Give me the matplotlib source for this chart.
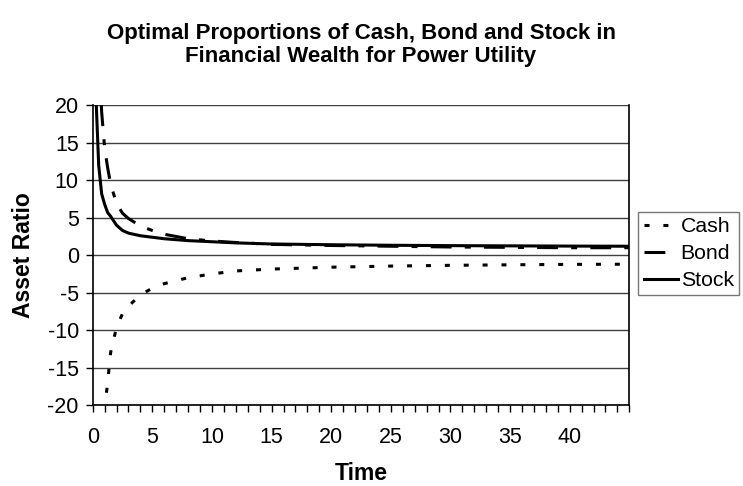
import matplotlib
matplotlib.use("Agg")
import matplotlib.pyplot as plt
import numpy as np

# values
time = [0.25, 0.5, 0.75, 1, 1.25, 1.5, 2, 2.5, 3, 4, 5, 6, 8, 10, 12, 15,
        20, 25, 30, 35, 40, 45]
cash = [-60, -40, -27, -20.5, -17.0, -13.0, -9.6, -7.8, -6.8, -5.3, -4.4,
        -3.8, -3.0, -2.5, -2.1, -1.85, -1.6, -1.45, -1.35, -1.28, -1.22, -1.2]
bond = [40, 27, 19.1, 14.3, 11.7, 9.5, 6.9, 5.6, 4.9, 3.9, 3.3, 2.8, 2.2,
        1.9, 1.7, 1.45, 1.3, 1.2, 1.1, 1.05, 1.0, 1.0]
stock = [22, 12, 8.2, 6.8, 5.7, 5.2, 4.0, 3.3, 2.95, 2.6, 2.4, 2.2, 1.95,
         1.8, 1.65, 1.5, 1.4, 1.33, 1.28, 1.25, 1.22, 1.2]

plt.rcParams['font.family'] = ['Liberation Sans', 'DejaVu Sans']
plt.rcParams['lines.scale_dashes'] = False
plt.rcParams['axes.unicode_minus'] = False

fig = plt.figure(figsize=(7.43, 4.86), dpi=100)
ax = fig.add_axes([0.1248, 0.1667, 0.847 - 0.1248, 0.783 - 0.1667])

ax.plot(time, cash, color='black', lw=2.2, dashes=(3.6, 10), label='Cash')
ax.plot(time, bond, color='black', lw=2.2, dashes=(15, 9.5, 4.3, 9.5),
        label='Bond')
ax.plot(time, stock, color='black', lw=2.2, label='Stock')

ax.set_xlim(0, 45)
ax.set_ylim(-20, 20)
ax.set_yticks(np.arange(-20, 21, 5))
ax.set_xticks(np.arange(0, 41, 5))
ax.set_xticks(np.arange(0, 46, 1), minor=True)
ax.yaxis.grid(True, color='#404040', lw=1)
ax.set_axisbelow(True)

ax.spines['top'].set_visible(False)
for s in ['left', 'bottom', 'right']:
    ax.spines[s].set_linewidth(1.2)

ax.tick_params(axis='y', direction='out', length=5, width=1, labelsize=15.5, pad=5)
ax.tick_params(axis='x', which='both', direction='out', length=5, width=1,
               labelsize=15.5, pad=11)

ax.set_xlabel('Time', fontsize=16.5, fontweight='bold', labelpad=10)
ax.set_ylabel('Asset Ratio', fontsize=16.5, fontweight='bold', labelpad=9)
ax.set_title('Optimal Proportions of Cash, Bond and Stock in\n'
             'Financial Wealth for Power Utility',
             fontsize=16, fontweight='bold', pad=31, linespacing=1.15)

leg = fig.legend(loc='upper left', bbox_to_anchor=(0.859, 0.5644),
                 fontsize=15.3, frameon=True, fancybox=False, handlelength=1.6,
                 handletextpad=0.15, labelspacing=0.38, borderpad=0.25,
                 borderaxespad=0)
leg.get_frame().set_edgecolor('#555555')
leg.get_frame().set_linewidth(1)

fig.savefig('out.png', dpi=100)
